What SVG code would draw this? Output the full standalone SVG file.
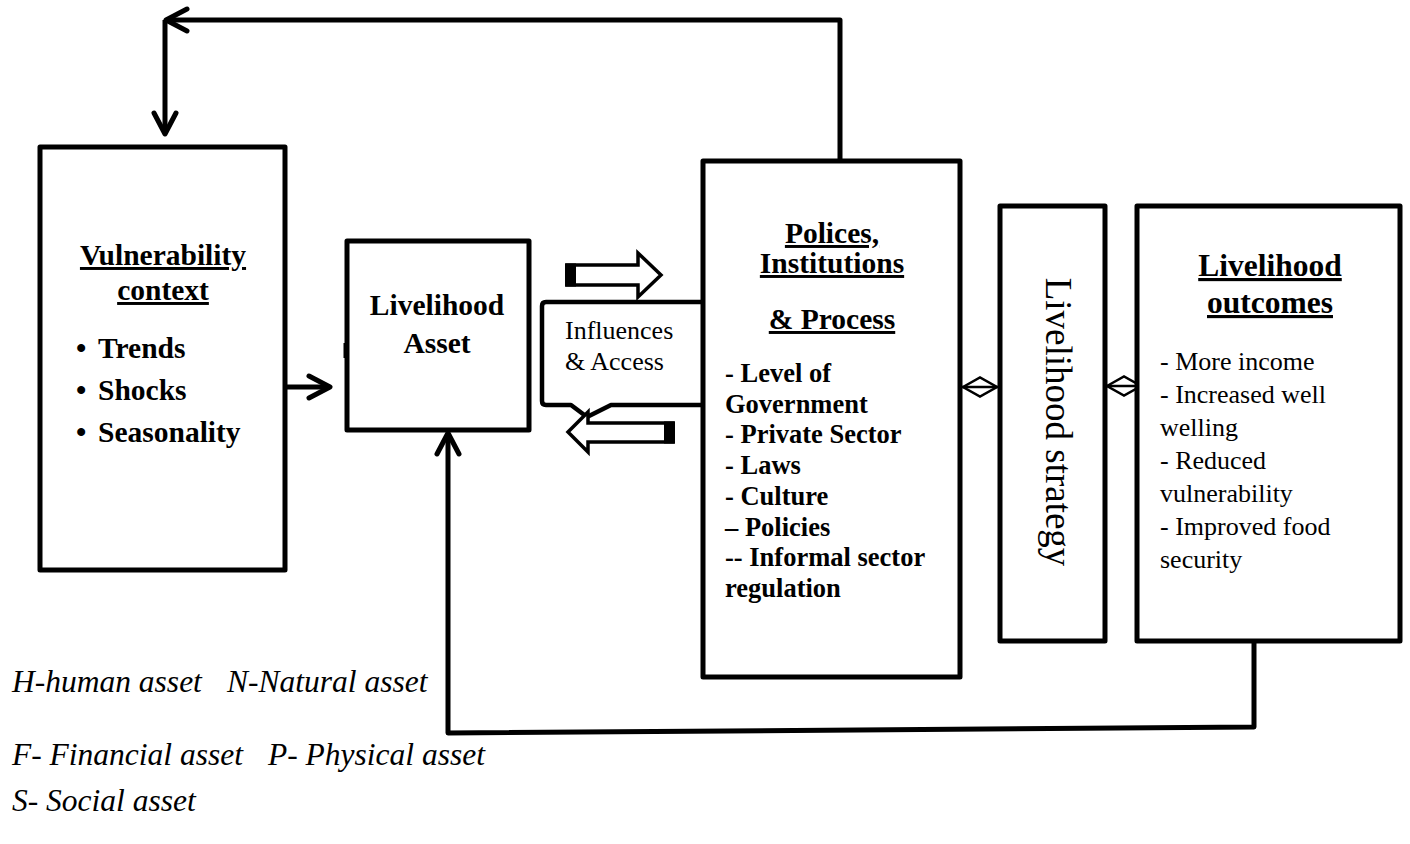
<svg xmlns="http://www.w3.org/2000/svg" width="1410" height="844" viewBox="0 0 1410 844">
<style>
.box{fill:#fff;stroke:#000;stroke-width:5;stroke-linejoin:round}
.con{fill:none;stroke:#000;stroke-width:5;stroke-linejoin:round}
.blk{fill:#fff;stroke:#000;stroke-width:3.5;stroke-linejoin:miter}
.dia{fill:none;stroke:#000;stroke-width:2.5}
.t{font-family:"Liberation Serif","Times New Roman",serif;fill:#000}
.hb{font-size:29.5px;font-weight:bold}
.hu{text-decoration:underline}
.lb{font-size:26.5px;font-weight:bold}
.r26{font-size:26px}
.it{font-size:31.5px;font-style:italic}
</style>
<defs>
<marker id="chev" markerUnits="userSpaceOnUse" viewBox="-30 -20 40 40" refX="0" refY="0" markerWidth="40" markerHeight="40" orient="auto" overflow="visible">
<path d="M-21,-11 L0,0 L-21,11" fill="none" stroke="#000" stroke-width="5" stroke-linecap="round" stroke-linejoin="round"/>
</marker>
</defs>
<rect width="1410" height="844" fill="#fff"/>

<g id="connectors">
<path class="con" d="M840,161 V20 H166" marker-end="url(#chev)"/>
<path class="con" d="M165,20 V134" marker-end="url(#chev)"/>
<path class="con" d="M285,387 H330" marker-end="url(#chev)"/>
<path class="con" d="M1254,642 V727 L448,733 V433" marker-end="url(#chev)"/>
<g id="diamond-left">
<line x1="962" y1="387" x2="999" y2="387" stroke="#000" stroke-width="2.5"/>
<polygon class="dia" points="963,387 980,377.5 997,387 980,396.5"/>
</g>
<g id="diamond-right">
<line x1="1105" y1="386" x2="1141" y2="386" stroke="#000" stroke-width="2.5"/>
<polygon class="dia" points="1107,386 1124,376.5 1141,386 1124,395.5"/>
</g>
</g>

<g id="vulnerability">
<rect class="box" x="40" y="147" width="245" height="423"/>
<text class="t hb hu" x="163" y="265" text-anchor="middle">Vulnerability</text>
<text class="t hb hu" x="163" y="300" text-anchor="middle">context</text>
<text class="t hb" x="76" y="358">•</text><text class="t hb" x="98" y="358">Trends</text>
<text class="t hb" x="76" y="400">•</text><text class="t hb" x="98" y="400">Shocks</text>
<text class="t hb" x="76" y="442">•</text><text class="t hb" x="98" y="442">Seasonality</text>
</g>

<g id="asset">
<rect class="box" x="347" y="241" width="182" height="189"/>
<rect x="343.5" y="343" width="4" height="15" fill="#000"/>
<text class="t hb" x="437" y="315" text-anchor="middle">Livelihood</text>
<text class="t hb" x="437" y="353" text-anchor="middle">Asset</text>
</g>

<g id="influences">
<path class="box" style="stroke-width:4.5" d="M546,302 H701 Q705,302 705,306 V401 Q705,405 701,405 H611 L587,417 L571,405 H546 Q542,405 542,401 V306 Q542,302 546,302 Z"/>
<text class="t r26" x="565" y="339">Influences</text>
<text class="t r26" x="565" y="370">&amp; Access</text>
<polygon class="blk" points="567,265 638,265 638,253 661,275 638,297 638,285 567,285"/>
<rect x="565" y="263.5" width="11" height="23" fill="#000"/>
<polygon class="blk" points="568,432 588,412 588,423 673,423 673,442 588,442 588,452"/>
<rect x="664" y="421.5" width="11" height="22" fill="#000"/>
</g>

<g id="policies">
<rect class="box" x="703" y="161" width="257" height="516"/>
<text class="t hb hu" x="832" y="243" text-anchor="middle">Polices,</text>
<text class="t hb hu" x="832" y="273" text-anchor="middle">Institutions</text>
<text class="t hb hu" x="832" y="329" text-anchor="middle">&amp; Process</text>
<text class="t lb" x="725" y="382">- Level of</text>
<text class="t lb" x="725" y="412.7">Government</text>
<text class="t lb" x="725" y="443.4">- Private Sector</text>
<text class="t lb" x="725" y="474">- Laws</text>
<text class="t lb" x="725" y="504.8">- Culture</text>
<text class="t lb" x="725" y="535.5">– Policies</text>
<text class="t lb" x="725" y="566">-- Informal sector</text>
<text class="t lb" x="725" y="597">regulation</text>
</g>

<g id="strategy">
<rect class="box" x="1000" y="206" width="105" height="435"/>
<text class="t" style="font-size:37px" transform="translate(1046,422) rotate(90)" text-anchor="middle">Livelihood strategy</text>
</g>

<g id="outcomes">
<rect class="box" x="1137" y="206" width="263" height="435"/>
<text class="t hu" style="font-size:31.5px;font-weight:bold" x="1270" y="276" text-anchor="middle">Livelihood</text>
<text class="t hu" style="font-size:31.5px;font-weight:bold" x="1270" y="313" text-anchor="middle">outcomes</text>
<text class="t r26" x="1160" y="370">- More income</text>
<text class="t r26" x="1160" y="403">- Increased well</text>
<text class="t r26" x="1160" y="436">welling</text>
<text class="t r26" x="1160" y="469">- Reduced</text>
<text class="t r26" x="1160" y="502">vulnerability</text>
<text class="t r26" x="1160" y="535">- Improved food</text>
<text class="t r26" x="1160" y="568">security</text>
</g>

<g id="legend">
<text class="t it" y="692"><tspan x="12">H-human asset</tspan><tspan x="227">N-Natural asset</tspan></text>
<text class="t it" y="765"><tspan x="12">F- Financial asset</tspan><tspan x="268">P- Physical asset</tspan></text>
<text class="t it" x="12" y="811">S- Social asset</text>
</g>
</svg>
